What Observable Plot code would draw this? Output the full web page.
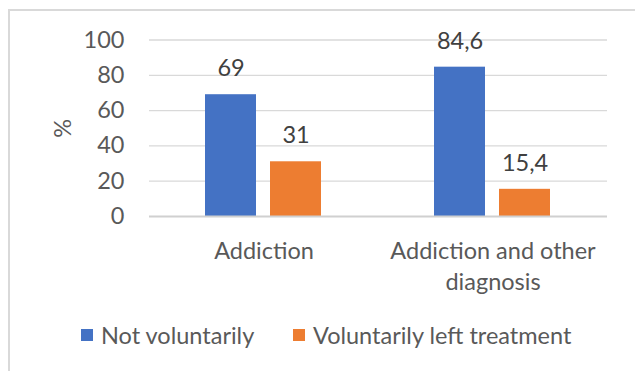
<!DOCTYPE html>
<html>
<head>
<meta charset="utf-8">
<script src="https://cdn.jsdelivr.net/npm/d3@7"></script>
<script src="https://cdn.jsdelivr.net/npm/@observablehq/plot@0.6"></script>
<style>
  html, body { margin: 0; padding: 0; background: #fff; }
  #chart { position: relative; width: 635px; height: 371px; overflow: hidden; font-family: Lato, "Open Sans", sans-serif; }
  #frame { position: absolute; left: 8px; top: 9px; width: 700px; height: 400px; border-left: 2px solid #d9d9d9; border-top: 2px solid #d9d9d9; }
  #plot { position: absolute; left: 0; top: 0; }
  #legend { position: absolute; top: 320px; left: 0; width: 635px; height: 30px; font-size: 23.5px; color: #595959; }
  .item { position: absolute; top: 0; display: flex; align-items: center; height: 30px; white-space: nowrap; }
  .swatch { width: 12px; height: 12px; margin-right: 8px; }
</style>
</head>
<body>
<div id="chart">
  <div id="frame"></div>
  <div id="plot"></div>
  <div id="legend"></div>
</div>
<script>
// Categories, series and values of the grouped bar chart
const categories = ["Addiction", "Addiction and other diagnosis"];
const categoryLabels = ["Addiction", "Addiction and other\ndiagnosis"];
const series = ["Not voluntarily", "Voluntarily left treatment"];
const notVoluntarily = [69, 84.6];
const voluntarilyLeft = [31, 15.4];
const yTicks = [0, 20, 40, 60, 80, 100];
const colors = ["#4472C4", "#ED7D31"];

// Long table for Plot: one row per bar
const rows = [];
categories.forEach((c, i) => {
  rows.push({category: c, series: series[0], value: notVoluntarily[i]});
  rows.push({category: c, series: series[1], value: voluntarilyLeft[i]});
});

const fmt = v => String(v).replace(".", ",");

const chart = Plot.plot({
  width: 635,
  height: 300,
  marginTop: 39.5,
  marginBottom: 84,
  marginLeft: 149,
  marginRight: 28,
  style: {fontFamily: "Lato, 'Open Sans', sans-serif", fontSize: "23.5px", background: "transparent"},
  fx: {domain: categories, padding: 0},
  x: {domain: series, paddingInner: 0.215, paddingOuter: 0.869},
  y: {domain: [0, 100]},
  color: {domain: series, range: colors},
  marks: [
    Plot.ruleY(yTicks.filter(t => t > 0), {stroke: "#d9d9d9", strokeWidth: 1.3}),
    Plot.barY(rows, {fx: "category", x: "series", y: "value", fill: "series"}),
    Plot.ruleY([0], {stroke: "#d0d0d0", strokeWidth: 2}),
    Plot.text(rows, {fx: "category", x: "series", y: "value", text: d => fmt(d.value), dy: -26, fill: "#404040"}),
    Plot.axisY({ticks: yTicks, tickSize: 0, tickPadding: 25, fill: "#595959", label: "%", labelAnchor: "center", labelArrow: "none", labelOffset: 95}),
    Plot.axisX({ticks: [], label: null}),
    Plot.axisFx({anchor: "bottom", tickSize: 0, tickPadding: 20, label: null, fill: "#595959", lineHeight: 1.32,
      tickFormat: d => categoryLabels[categories.indexOf(d)]})
  ]
});
document.getElementById("plot").append(chart);

// Legend below the plot
const legend = document.getElementById("legend");
const legendX = [81, 293];
series.forEach((s, i) => {
  const item = document.createElement("div");
  item.className = "item";
  item.style.left = legendX[i] + "px";
  const sw = document.createElement("span");
  sw.className = "swatch";
  sw.style.background = colors[i];
  const label = document.createElement("span");
  label.textContent = s;
  item.append(sw, label);
  legend.append(item);
});
</script>
</body>
</html>
